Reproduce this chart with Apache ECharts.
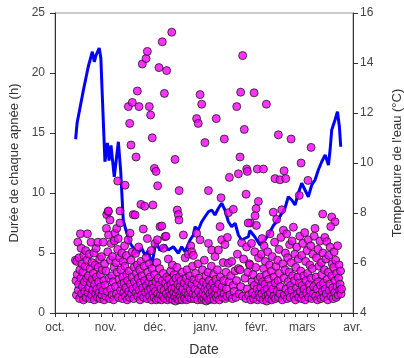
<!DOCTYPE html>
<html>
<head>
<meta charset="utf-8">
<script src="https://cdn.jsdelivr.net/npm/echarts@6/dist/echarts.min.js"></script>
<style>
html,body{margin:0;padding:0;background:#fff;}
#chart{width:404px;height:358px;}
</style>
</head>
<body>
<div id="chart"></div>
<script>
// Days counted from 1 October
const monthLabels = ['oct.', 'nov.', 'déc.', 'janv.', 'févr.', 'mars', 'avr.'];
const monthStarts = [0, 31, 61, 92, 123, 151, 182];
const weekTicks = [0,7,14,21,28,35,42,49,56,63,70,77,84,91,98,105,112,119,126,133,140,147,154,161,168,175,182];
const hoursTicks = [0, 5, 10, 15, 20, 25];
const tempTicks = [4, 6, 8, 10, 12, 14, 16];

// Water temperature (°C) : [day, temp]
const waterTemp = [
  [12.6,10.95],[13.5,11.6],[14.5,11.6],[17.3,12.9],[20.3,13.85],[22.8,14.45],[24,14.05],[25,14.3],
  [27,14.6],[28,14.2],[29,12.5],[30.5,10.05],[32,10.8],[33,10.1],[34.2,10.7],[36.2,9.45],
  [38.7,10.85],[40.1,9.7],[41.7,7.7],[43.4,7.3],[45.8,6.8],[48.9,6.5],[50.9,6.4],[52.9,6.6],
  [55,6.3],[57,6.5],[59,5.9],[61.7,6.85],[64.1,6.5],[67.2,6.72],[69.2,6.52],[72.3,6.65],
  [75.3,6.39],[77.4,6.65],[79.4,6.45],[82.5,6.92],[84.5,7.12],[85.5,7.45],[87.5,7.32],[89.6,7.65],
  [91.6,7.85],[93.7,8.05],[95.7,8.12],[97.7,7.92],[99.8,8.19],[101.8,8.39],[103.8,8.12],[105.9,7.65],
  [107.9,7.45],[110,7.59],[112,7.12],[114,6.92],[116.1,6.99],[118.1,7.05],[119,7.3],[122,7.05],
  [125.2,6.72],[128.3,6.92],[131.3,7.25],[133.4,7.5],[136,7.7],[138.5,7.99],[140.5,8.2],[142.5,8.65],
  [144.6,8.52],[146.6,8.32],[148.6,8.79],[150.7,9.19],[152.7,8.92],[154.7,8.65],[156.8,9.12],[158.8,9.32],
  [160.8,9.72],[162.9,10.05],[165,10.32],[167,9.92],[168,10.52],[169,11.32],[171,11.72],[172.5,12.05],
  [173.7,11.45],[174.5,10.65]
];

// Duration of each dive (h): [day, hours] — long dives
const apneaLong = [
  [38.3,11.0],[42.8,10.65],[32.6,8.5],[39.7,8.5],
  [44.8,17.2],[45.6,15.8],[46.4,14.0],[47.2,17.55],[49.5,13.0],[50.3,18.5],[51.3,17.2],[53.3,20.75],
  [55.6,21.2],[56.4,21.8],[57.6,17.2],[58.4,16.5],[59.4,14.6],[60.7,12.05],[61.7,11.8],[62.7,10.6],
  [63.5,20.45],[65.5,22.6],[66.8,18.3],[68.2,20.2],[71.3,23.4],[73.3,12.8],[75.8,10.2],[74.7,8.58],
  [75.3,8.2],[75.7,7.75],[52.5,9.05],[54.8,8.9],[59.8,9.0],
  [86.5,16.2],[87.5,15.8],[88.6,18.2],[89.6,17.4],[91.6,14.2],[98.5,16.2],[103.4,14.5],[93.7,10.2],
  [101.4,9.6],[105.9,8.36],[108.9,8.64],[106.5,11.3],[111,17.2],[112,11.6],[113,13.0],[113.4,18.4],
  [114.6,21.45],[115.6,15.3],[116.7,9.9],[117.1,12.0],[117.5,11.8],[118,7.5],[121.6,18.35],[123.6,12.0],
  [127.3,12.0],[124.2,9.3],[122.8,8.7],[122.2,8.1],[129.1,17.4],[134.4,11.2],[137.4,11.1],[140.9,11.2],
  [139.9,11.85],[136.4,14.85],[144.2,14.5],[150.3,12.5],[149.2,9.8],[154.5,11.05],[156.4,13.8],
  [163.5,8.25],[169,8.0],[171,7.6],[168.4,7.2]
];

// Duration of each dive (h): [day, hours] — short dives
const apneaShort = [
  [12.5,4.4],[12.8,2.7],[13.1,1.5],[13.3,4.3],[13.6,3.2],[13.9,5.9],[14.2,1.9],[14.4,2.4],[14.7,4.6],[15.0,1.2],
  [15.2,3.6],[15.5,6.6],[15.8,2.9],[16.0,5.4],[16.3,1.6],[16.5,4.1],[16.8,2.2],[17.1,3.4],[17.4,1.1],[17.6,4.8],
  [17.9,2.6],[18.2,1.8],[18.4,3.9],[18.7,5.2],[19.0,1.3],[19.3,2.9],[19.5,4.4],[19.8,6.6],[20.1,1.7],[20.4,3.1],
  [20.6,2.1],[20.9,4.9],[21.2,1.2],[21.5,3.7],[21.7,2.5],[22.0,5.9],[22.3,1.5],[22.6,4.2],[22.8,2.8],[23.1,1.9],
  [23.4,3.3],[23.7,5.0],[24.0,1.1],[24.2,2.4],[24.5,4.0],[24.8,1.6],[25.1,5.4],[25.3,3.0],[25.6,2.0],[25.9,1.3],
  [26.2,5.9],[26.4,3.8],[26.7,2.6],[27.0,1.7],[27.3,4.5],[27.5,1.2],[27.8,3.2],[28.1,2.2],[28.4,4.7],[28.6,1.5],
  [28.9,3.6],[29.2,1.9],[29.5,5.9],[29.8,2.7],[30.0,1.1],
  [30.3,4.1],[30.6,2.3],[30.9,1.4],[31.1,3.5],[31.4,7.05],[31.6,8.2],[31.9,1.8],[32.2,5.1],[32.5,8.45],[32.7,6.5],
  [33.0,2.9],[33.3,1.2],[33.6,7.75],[33.8,4.4],[34.1,2.0],[34.4,5.8],[34.7,3.1],[34.9,1.5],[35.2,4.7],[35.5,2.6],
  [35.8,1.1],[36.1,3.8],[36.3,6.0],[36.6,6.65],[36.9,2.2],[37.2,4.2],[37.5,1.6],[37.7,7.05],[38.0,3.4],[38.3,5.3],
  [38.6,6.2],[38.8,1.3],[39.1,2.8],[39.4,4.6],[39.7,7.5],[40.0,1.9],[40.2,3.6],[40.5,2.4],[40.8,5.0],[41.1,1.2],
  [41.3,3.0],[41.6,4.3],[41.9,1.7],[42.2,2.5],[42.5,5.6],[42.7,3.9],[43.0,1.4],[43.3,2.1],[43.6,4.8],[43.9,3.2],
  [44.1,1.1],[44.4,2.7],[44.7,6.1],[45.0,1.8],
  [45.3,3.5],[45.6,1.3],[45.8,6.65],[46.1,2.4],[46.4,4.4],[46.7,1.6],[47.0,3.0],[47.2,5.1],[47.5,2.0],[47.8,8.2],
  [48.1,1.2],[48.4,3.8],[48.6,2.6],[48.9,8.17],[49.2,4.97],[49.5,1.7],[49.7,3.3],[50.0,2.2],[50.3,4.0],[50.6,1.4],
  [50.8,2.9],[51.1,5.5],[51.4,1.9],[51.7,3.6],[52.0,1.1],[52.2,2.5],[52.5,4.3],[52.8,1.5],[53.1,3.1],[53.6,2.1],
  [53.9,7.0],[54.2,1.3],[54.5,3.9],[54.7,2.7],[55.3,1.7],[55.6,4.6],[55.9,2.3],[56.2,1.2],[56.4,6.2],[56.7,3.4],
  [57.0,1.9],[57.3,2.6],[57.6,4.1],[57.8,1.4],[58.1,3.0],[58.4,2.0],[58.7,5.2],[59.0,1.1],[59.3,3.7],[59.5,2.4],
  [59.8,1.6],
  [60.2,2.1],[60.5,1.3],[60.8,3.2],[61.1,5.8],[61.3,1.8],[61.6,2.6],[61.9,1.1],[62.2,4.2],[62.5,6.1],[62.7,1.6],
  [63.0,2.9],[63.3,1.2],[63.6,2.3],[63.9,3.7],[64.1,7.2],[64.4,1.5],[64.7,2.0],[65.0,1.1],[65.2,7.25],[65.5,2.7],
  [65.8,1.4],[66.1,3.3],[66.2,5.4],[66.6,1.9],[66.9,1.2],[67.2,6.36],[67.5,2.5],[67.8,6.4],[68.0,1.6],[68.3,3.0],
  [68.6,1.1],[68.9,2.2],[69.2,4.5],[69.4,1.4],[69.7,2.8],[70.0,1.8],[70.3,1.2],[70.6,3.5],[70.8,2.4],[71.1,1.5],
  [71.4,2.0],[71.7,4.0],[72.0,1.1],[72.2,2.6],[72.5,1.7],[72.8,3.2],[73.1,1.3],[73.4,2.1],[73.6,1.0],[73.9,2.9],
  [74.2,1.6],[74.5,3.8],[74.7,1.2],[75.0,2.4],[75.3,1.9],[75.6,1.1],[75.9,3.0],[76.2,1.5],[76.4,2.2],[76.7,1.3],
  [77.0,2.7],[77.3,1.8],[77.5,1.1],[77.8,3.4],[78.1,2.0],[78.4,6.5],[78.7,1.4],[79.0,2.5],[79.2,1.2],[79.5,4.6],
  [79.8,1.7],[80.1,2.9],[80.4,1.1],[80.6,3.6],[80.9,2.2],[81.2,1.5],[81.5,4.9],[81.8,2.6],[82.0,1.3],[82.3,3.1],
  [82.6,1.9],[82.9,5.6],[83.2,1.2],[83.5,5.1],[83.7,2.4],[84.0,3.9],[84.3,1.6],[84.5,4.8],[84.8,2.8],
  [85.1,1.2],[85.4,2.0],[85.7,3.3],[86.0,1.5],[86.5,6.64],[86.8,2.5],[87.1,1.1],[87.4,4.1],[87.7,1.8],[88.0,2.9],
  [88.6,6.1],[89.2,1.4],[89.5,2.3],[89.8,1.1],[90.1,3.6],[90.4,1.7],[90.6,2.6],[90.9,1.2],[91.2,4.4],[91.5,2.0],
  [91.8,1.5],[92.1,3.1],[92.3,1.0],[92.6,2.4],[92.9,1.3],[93.2,1.9],[93.5,3.4],[93.7,5.8],[94.0,1.1],[94.3,2.7],
  [94.6,1.6],[94.9,2.2],[95.2,1.2],[95.5,3.9],[95.7,5.25],[96.0,1.8],[96.3,2.5],[96.6,1.4],[96.9,3.2],[97.2,1.1],
  [97.5,2.1],[97.7,4.7],[98.0,1.6],[98.3,2.8],[98.6,1.3],[98.9,2.0],[99.2,3.6],[99.5,1.5],[99.8,5.25],[100.1,2.4],
  [100.4,1.1],[100.8,7.2],[101.0,3.0],[101.4,1.7],[101.8,6.1],[102.1,2.2],[102.4,1.3],[102.7,4.2],[103.0,2.7],[103.3,1.6],
  [103.8,5.7],[104.1,1.2],[104.4,3.4],[104.7,2.0],[105.0,1.4],[105.3,6.3],[105.9,4.15],[106.3,2.6],[106.8,1.5],[107.4,3.1],
  [107.9,4.3],[108.4,1.2],[108.9,2.3],[109.4,1.8],[109.9,3.5],[110.4,1.3],[110.9,2.7],[111.4,4.9],[112.0,3.7],[112.5,1.6],
  [113.0,3.6],[113.5,2.2],[114.0,5.85],[114.6,1.4],[115.2,4.5],[116.0,2.9],[116.6,1.2],[117.0,5.5],[117.4,2.0],[117.8,3.4],
  [118.2,1.5],[118.6,4.1],[119.0,4.0],[119.3,7.5],[119.6,1.1],[120.0,5.8],[120.3,2.6],[120.6,1.7],[121.0,3.2],[121.3,1.2],
  [121.7,2.3],[122.0,5.1],[122.3,1.5],[122.6,3.8],[123.0,7.3],[123.3,2.0],[123.6,1.1],[124.0,2.8],[124.3,4.6],[124.7,1.6],
  [125.1,1.3],[125.4,3.0],[125.7,2.1],[126.0,4.9],[126.3,1.6],[126.5,6.2],[126.8,2.6],[127.1,1.1],[127.4,3.7],[127.7,5.6],
  [128.0,1.9],[128.2,2.4],[128.5,4.3],[128.8,1.4],[129.1,3.2],[129.3,1.0],[129.6,2.0],[129.9,5.1],[130.2,1.5],[130.5,2.8],
  [130.7,1.2],[131.0,4.0],[131.3,6.6],[131.6,1.7],[131.9,2.3],[132.2,3.5],[132.4,1.1],[132.7,4.7],[133.0,2.0],[133.3,8.4],
  [133.6,1.4],[133.8,3.0],[134.1,5.9],[134.4,2.5],[134.7,1.2],[135.0,3.9],[135.4,7.8],[135.7,1.8],[136.0,4.4],[136.3,2.7],
  [136.5,1.3],[136.8,5.3],[137.1,3.3],[137.4,1.6],[137.7,2.2],[138.0,6.3],[138.5,8.6],[138.8,1.1],[139.1,4.1],[139.5,6.9],
  [139.8,2.9],[140.1,1.5],[140.4,3.6],[140.7,5.0],[141.0,2.0],[141.5,6.6],[141.8,1.2],[142.1,4.6],[142.4,2.6],[142.7,1.7],
  [143.0,3.4],[143.3,5.7],[143.6,1.3],[143.9,2.3],[144.2,4.2],[144.5,1.9],[144.8,6.0],[145.1,3.1],[145.6,7.15],[145.9,1.4],
  [146.2,2.7],[146.5,4.9],[146.8,1.1],[147.1,3.8],[147.4,2.1],[147.7,5.5],[148.0,1.6],[148.3,3.0],[148.6,4.5],[148.9,1.3],
  [149.2,2.5],[149.5,6.4],[149.8,1.8],
  [150.1,3.5],[150.4,1.2],[150.7,4.8],[151.0,2.3],[151.3,5.8],[151.6,1.5],[151.9,3.1],[152.2,2.0],[152.5,6.7],[152.8,1.1],
  [153.1,4.3],[153.4,2.7],[153.7,1.7],[154.0,5.2],[154.3,3.3],[154.7,6.1],[155.0,1.3],[155.3,2.4],[155.6,4.0],[155.9,1.9],
  [156.2,5.6],[156.5,2.9],[156.8,1.2],[157.1,3.7],[157.4,4.9],[157.7,1.6],[158.0,2.2],[158.3,6.4],[158.8,7.05],[159.1,1.4],
  [159.4,3.0],[159.7,4.6],[160.0,2.0],[160.3,1.1],[160.6,5.3],[160.9,2.6],[161.2,3.9],[161.5,1.5],[161.8,6.0],[162.1,2.3],
  [162.4,1.2],[162.7,4.2],[163.0,3.2],[163.3,1.8],[163.6,5.0],[163.9,2.5],[164.2,1.3],[164.5,3.6],[164.8,6.3],[165.1,2.0],
  [165.4,4.5],[165.7,1.6],[166.0,5.95],[166.3,2.8],[166.6,1.1],[166.9,3.4],[167.2,4.8],[167.5,1.9],[167.8,2.4],[168.0,5.5],
  [168.7,1.4],[169.0,3.1],[169.3,4.1],[169.6,2.1],[169.9,1.2],[170.2,3.8],[170.5,5.1],[170.8,1.7],[171.1,2.7],[171.4,4.4],
  [171.7,1.3],[172.0,3.3],[172.3,2.2],[172.6,5.6],[172.9,1.5],[173.2,2.9],[173.5,4.0],[173.8,1.9],[174.1,2.4],[174.4,3.5],
  [174.7,1.6],[175.0,2.0]
];

const chart = echarts.init(document.getElementById('chart'), null, { renderer: 'canvas' });
const font = 'Liberation Sans, Arial, sans-serif';
const dotStyle = { color: '#ff00ff', borderColor: '#1a1a1a', borderWidth: 1 };

chart.setOption({
  animation: false,
  backgroundColor: '#fff',
  grid: {
    left: 55, right: 51, top: 13, bottom: 45, containLabel: false, outerBoundsMode: 'none',
    show: true, borderColor: '#999', borderWidth: 1
  },
  xAxis: {
    type: 'value', min: 0, max: 182,
    name: 'Date', nameLocation: 'middle', nameGap: 30,
    nameTextStyle: { fontFamily: font, fontSize: 14, color: '#333' },
    axisLine: { show: true, lineStyle: { color: '#333', width: 1 } },
    axisTick: { show: true, length: 4, customValues: weekTicks, lineStyle: { color: '#333' } },
    axisLabel: {
      customValues: monthStarts, margin: 9,
      fontFamily: font, fontSize: 12, color: '#444',
      formatter: function (v) { const i = monthStarts.indexOf(v); return i >= 0 ? monthLabels[i] : ''; }
    },
    splitLine: { show: false }
  },
  yAxis: [
    {
      type: 'value', min: 0, max: 25, interval: 5, position: 'left',
      name: 'Durée de chaque apnée (h)', nameLocation: 'middle', nameGap: 34, nameRotate: 90,
      nameTextStyle: { fontFamily: font, fontSize: 13, color: '#333' },
      axisLine: { show: true, lineStyle: { color: '#333', width: 1 } },
      axisTick: { show: true, length: 5, lineStyle: { color: '#333' } },
      axisLabel: { fontFamily: font, fontSize: 12, color: '#444', margin: 10 },
      splitLine: { show: false }
    },
    {
      type: 'value', min: 4, max: 16, interval: 2, position: 'right',
      name: "Température de l'eau (°C)", nameLocation: 'middle', nameGap: 38, nameRotate: 90,
      nameTextStyle: { fontFamily: font, fontSize: 13, color: '#333' },
      axisLine: { show: true, lineStyle: { color: '#333', width: 1 } },
      axisTick: { show: true, length: 5, lineStyle: { color: '#333' } },
      axisLabel: { fontFamily: font, fontSize: 12, color: '#444', margin: 7 },
      splitLine: { show: false }
    }
  ],
  series: [
    {
      type: 'line', yAxisIndex: 1, data: waterTemp, showSymbol: false,
      lineStyle: { color: '#0000ff', width: 3 }, z: 2
    },
    {
      type: 'scatter', yAxisIndex: 0, data: apneaShort, symbolSize: 8,
      itemStyle: dotStyle, z: 3
    },
    {
      type: 'scatter', yAxisIndex: 0, data: apneaLong, symbolSize: 8,
      itemStyle: dotStyle, z: 3
    }
  ]
});
</script>
</body>
</html>
